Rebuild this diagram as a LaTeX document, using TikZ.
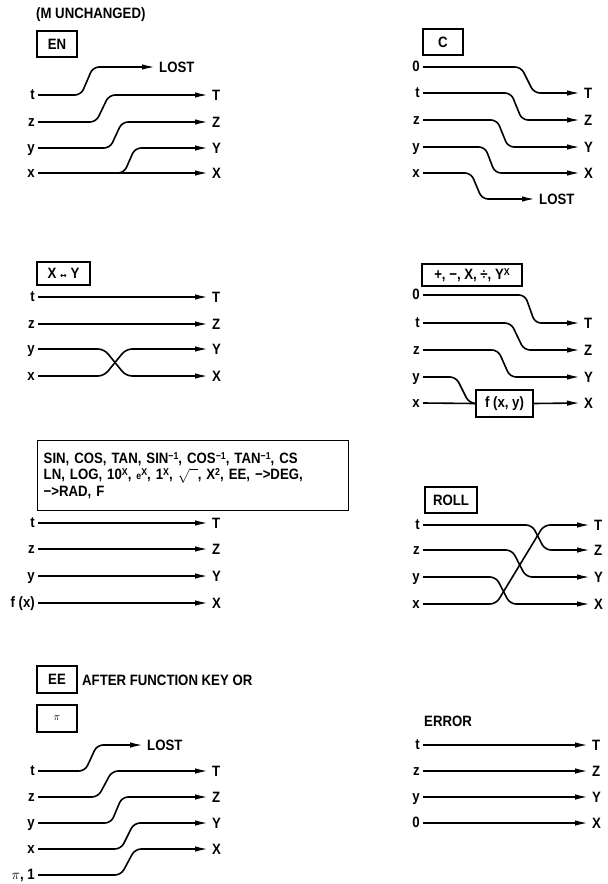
\documentclass[tikz,border=0pt]{standalone}
\usepackage{fontspec}
\setmainfont[FakeStretch=0.88]{Liberation Sans}
\newfontfamily\dvfont{DejaVu Sans}
\usetikzlibrary{arrows.meta}
\newcommand\lblfont{\bfseries\fontsize{15}{16.5}\selectfont}
\newcommand\upx[1]{\raisebox{4pt}{\fontsize{10}{10}\selectfont #1}}
\tikzset{
  txt/.style={font=\lblfont, inner sep=0pt},
  inl/.style={txt, anchor=east, inner xsep=3pt, text height=8.5pt, text depth=0pt},
  outl/.style={txt, anchor=west, inner xsep=4pt, text height=10.7pt, text depth=0pt},
  keybox/.style={draw, line width=1.4pt, font=\lblfont, inner sep=0pt},
  conn/.style={line width=1.6pt, rounded corners=6pt, -{Latex[length=13pt,width=5.5pt]}},
  wire/.style={line width=1.6pt, rounded corners=6pt},
}
\begin{document}
\begin{tikzpicture}[x=1pt,y=-1pt]
\useasboundingbox[fill=white] (0,0) rectangle (608,884);

% ---------- Panel EN ----------
\node[txt, anchor=west] (munch) at (36,15) {(M UNCHANGED)};
\node[keybox, minimum width=40pt, minimum height=26pt] (enkey) at (57,44) {EN};
\node[inl] (t1) at (38,95) {t};
\node[inl] (z1) at (38,122) {z};
\node[inl] (y1) at (38,148) {y};
\node[inl] (x1) at (38,173) {x};
\node[outl] (L1) at (155,67) {LOST};
\node[outl] (T1) at (208,95) {T};
\node[outl] (Z1) at (208,122) {Z};
\node[outl] (Y1) at (208,148) {Y};
\node[outl] (X1) at (208,173) {X};
\coordinate (b1) at (116,173);
\draw[conn] (t1.east) -- (81,95) -- (93,67) -- (L1.west);
\draw[conn] (z1.east) -- (96,122) -- (109,95) -- (T1.west);
\draw[conn] (y1.east) -- (110,148) -- (122,122) -- (Z1.west);
\draw[conn] (x1.east) -- (X1.west);
\draw[conn] (b1) -- (124,173) -- (135,148) -- (Y1.west);

% ---------- Panel C ----------
\node[keybox, minimum width=40pt, minimum height=26pt] (ckey) at (443,42) {C};
\node[inl] (o2) at (423,67) {0};
\node[inl] (t2) at (423,93) {t};
\node[inl] (z2) at (423,120) {z};
\node[inl] (y2) at (423,147) {y};
\node[inl] (x2) at (423,173) {x};
\node[outl] (T2) at (580,93) {T};
\node[outl] (Z2) at (580,120) {Z};
\node[outl] (Y2) at (580,147) {Y};
\node[outl] (X2) at (580,173) {X};
\node[outl] (L2) at (535,199) {LOST};
\draw[conn] (o2.east) -- (521,67) -- (534,93) -- (T2.west);
\draw[conn] (t2.east) -- (511,93) -- (522,120) -- (Z2.west);
\draw[conn] (z2.east) -- (497,120) -- (508,147) -- (Y2.west);
\draw[conn] (y2.east) -- (485,147) -- (495,173) -- (X2.west);
\draw[conn] (x2.east) -- (471,173) -- (482,199) -- (L2.west);

% ---------- Panel X<->Y ----------
\node[keybox, minimum width=53pt, minimum height=23pt] (xykey) at (63.5,273.5) {X {\dvfont\fontsize{8}{8}\selectfont ↔} Y};
\node[inl] (t3) at (38,297) {t};
\node[inl] (z3) at (38,324) {z};
\node[inl] (y3) at (38,349) {y};
\node[inl] (x3) at (38,376) {x};
\node[outl] (T3) at (208,297) {T};
\node[outl] (Z3) at (208,324) {Z};
\node[outl] (Y3) at (208,349) {Y};
\node[outl] (X3) at (208,376) {X};
\draw[conn] (t3.east) -- (T3.west);
\draw[conn] (z3.east) -- (Z3.west);
\draw[conn] (y3.east) -- (104,349) -- (126,376) -- (X3.west);
\draw[conn] (x3.east) -- (104,376) -- (126,349) -- (Y3.west);

% ---------- Panel + - X / Y^x ----------
\node[keybox, minimum width=100pt, minimum height=22pt] (opkey) at (472,275) {+, −, X, ÷, Y\upx{X}};
\node[inl] (o4) at (423,295) {0};
\node[inl] (t4) at (423,323) {t};
\node[inl] (z4) at (423,350) {z};
\node[inl] (y4) at (423,377) {y};
\node[inl] (x4) at (423,403) {x};
\node[outl] (T4) at (580,323) {T};
\node[outl] (Z4) at (580,350) {Z};
\node[outl] (Y4) at (580,377) {Y};
\node[outl] (X4) at (580,403) {X};
\node[keybox, line width=1.2pt, minimum width=57pt, minimum height=27pt] (fxy) at (504.5,403.5) {f (x, y)};
\draw[conn] (o4.east) -- (525,295) -- (535,323) -- (T4.west);
\draw[conn] (t4.east) -- (511,323) -- (524,350) -- (Z4.west);
\draw[conn] (z4.east) -- (498,350) -- (510,377) -- (Y4.west);
\draw[wire] (y4.east) -- (456,377) -- (469,403) -- (fxy.west);
\draw[wire] (x4.east) -- (fxy.west);
\draw[conn] (fxy.east) -- (X4.west);

% ---------- Panel functions ----------
\node[keybox, anchor=north west, minimum width=311pt, minimum height=70pt,
      text width=299pt, align=left, inner xsep=6pt] (fnbox) at (37,440)
 {SIN, COS, TAN, SIN\upx{−1}, COS\upx{−1}, TAN\upx{−1}, CS\\
  LN, LOG, 10\upx{X}, {\fontsize{10}{10}\selectfont e}\upx{X}, 1\upx{X}, $\sqrt{\phantom{x}}$, X\upx{2}, EE, −>DEG,\\
  −>RAD, F};
\node[inl] (t5) at (38,523) {t};
\node[inl] (z5) at (38,549) {z};
\node[inl] (y5) at (38,576) {y};
\node[inl] (f5) at (38,603) {f (x)};
\node[outl] (T5) at (208,523) {T};
\node[outl] (Z5) at (208,549) {Z};
\node[outl] (Y5) at (208,576) {Y};
\node[outl] (X5) at (208,603) {X};
\draw[conn] (t5.east) -- (T5.west);
\draw[conn] (z5.east) -- (Z5.west);
\draw[conn] (y5.east) -- (Y5.west);
\draw[conn] (f5.east) -- (X5.west);

% ---------- Panel ROLL ----------
\node[keybox, minimum width=52pt, minimum height=26pt] (rollkey) at (451,500) {ROLL};
\node[inl] (t6) at (423,525) {t};
\node[inl] (z6) at (423,550) {z};
\node[inl] (y6) at (423,577) {y};
\node[inl] (x6) at (423,604) {x};
\node[outl] (T6) at (590,525) {T};
\node[outl] (Z6) at (590,550) {Z};
\node[outl] (Y6) at (590,577) {Y};
\node[outl] (X6) at (590,604) {X};
\draw[conn] (t6.east) -- (532,525) -- (545,550) -- (Z6.west);
\draw[conn] (z6.east) -- (512,550) -- (526,577) -- (Y6.west);
\draw[conn] (y6.east) -- (496,577) -- (510,604) -- (X6.west);
\draw[conn] (x6.east) -- (496,604) -- (544,525) -- (T6.west);

% ---------- Panel EE / pi ----------
\node[keybox, minimum width=40pt, minimum height=27pt] (eekey) at (57,679.5) {EE};
\node[txt, anchor=west] (after) at (82,680) {AFTER FUNCTION KEY OR};
\node[keybox, minimum width=40pt, minimum height=27pt] (pikey) at (57,718.5) {\fontsize{11}{11}\selectfont$\pi$};
\node[outl] (L7) at (143,745) {LOST};
\node[inl] (t7) at (38,771) {t};
\node[inl] (z7) at (38,797) {z};
\node[inl] (y7) at (38,823) {y};
\node[inl] (x7) at (38,849) {x};
\node[inl] (p7) at (38,875) {$\pi$, 1};
\node[outl] (T7) at (208,771) {T};
\node[outl] (Z7) at (208,797) {Z};
\node[outl] (Y7) at (208,823) {Y};
\node[outl] (X7) at (208,849) {X};
\draw[conn] (t7.east) -- (85,771) -- (97,745) -- (L7.west);
\draw[conn] (z7.east) -- (98,797) -- (112,771) -- (T7.west);
\draw[conn] (y7.east) -- (111,823) -- (122,797) -- (Z7.west);
\draw[conn] (x7.east) -- (121,849) -- (134,823) -- (Y7.west);
\draw[conn] (p7.east) -- (121,875) -- (135,849) -- (X7.west);

% ---------- Panel ERROR ----------
\node[txt, anchor=west] (err) at (424,721) {ERROR};
\node[inl] (t8) at (423,745) {t};
\node[inl] (z8) at (423,771) {z};
\node[inl] (y8) at (423,797) {y};
\node[inl] (o8) at (423,823) {0};
\node[outl] (T8) at (588,745) {T};
\node[outl] (Z8) at (588,771) {Z};
\node[outl] (Y8) at (588,797) {Y};
\node[outl] (X8) at (588,823) {X};
\draw[conn] (t8.east) -- (T8.west);
\draw[conn] (z8.east) -- (Z8.west);
\draw[conn] (y8.east) -- (Y8.west);
\draw[conn] (o8.east) -- (X8.west);
\end{tikzpicture}
\end{document}
